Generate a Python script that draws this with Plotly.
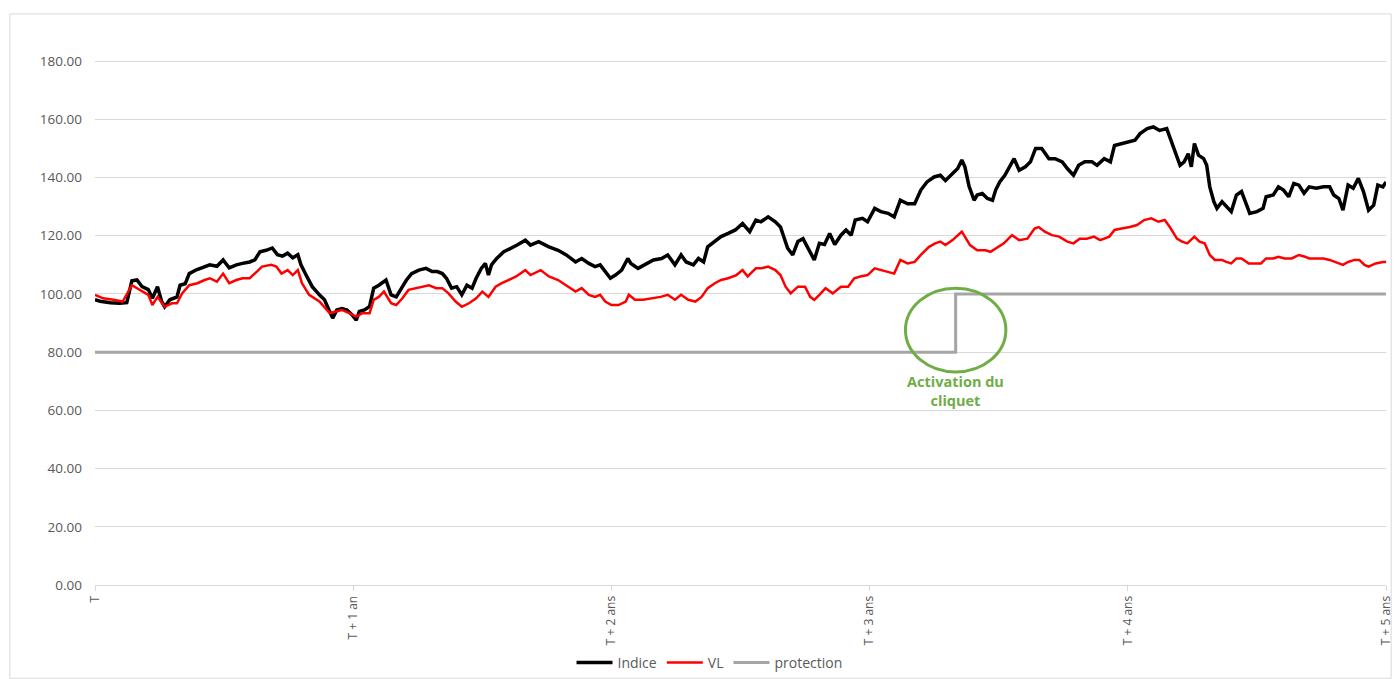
import plotly.graph_objects as go

# ---- data (day index: 252 trading days per year) ----
indice_jours = [0,5,15,24,31,36,41,46,52,56,61,65,68,73,80,83,88,92,99,107,112,119,125,131,138,144,151,156,161,167,173,178,183,188,193,198,201,206,212,219,224,229,232,236,241,246,251,255,258,263,268,272,277,284,289,294,299,304,309,316,323,329,334,339,343,348,353,358,363,368,372,377,381,384,387,392,399,406,412,420,425,433,443,452,460,469,475,482,488,493,498,503,508,514,520,523,530,537,545,553,559,566,572,577,584,589,594,598,605,611,618,625,632,639,645,650,657,664,669,673,676,681,686,691,696,702,707,712,717,722,728,733,738,742,749,754,761,767,774,780,786,793,800,806,812,819,825,830,837,842,846,849,853,858,861,866,871,876,879,883,888,893,897,902,908,913,918,924,931,937,944,949,955,960,966,973,978,985,991,995,1002,1009,1015,1020,1027,1033,1039,1046,1051,1056,1059,1063,1067,1070,1073,1077,1082,1085,1088,1092,1095,1100,1104,1109,1114,1119,1124,1127,1134,1140,1143,1150,1155,1160,1165,1170,1175,1180,1185,1192,1199,1205,1209,1214,1218,1223,1228,1233,1238,1243,1248,1252,1257,1260]
indice_valeurs = [98,97.5,97,96.8,97,104.5,104.8,102.5,101.5,98.5,102.5,97.5,95.6,98,99,103,103.5,107,108.3,109.5,110,109.5,111.7,109,110,110.5,111,111.7,114.5,115,115.8,113.5,113,114,112.4,113.5,110,106.5,102.5,99.7,98,94,91.7,94.5,95,94.5,92.8,91,94,94.5,95.7,102,103,104.8,99.7,99,102,104.8,107,108.2,108.8,107.7,107.7,107,105.4,102,102.5,99.7,103,102,105.4,108.8,110.5,106.5,110,112.2,114.5,115.7,116.8,118.5,116.8,118,116.2,115,113.4,111,112.2,110.5,109.4,110,107.7,105.4,106.5,108.2,112.2,110.5,108.8,110,111.7,112.2,113.4,110,113.4,111,110,112.2,111,116.2,118,119.7,120.8,122,124.2,121.4,125.4,124.8,126.5,124.8,123,119,115.7,113.4,118,119,115.7,111.7,117.4,117,120.8,117,120.2,122,120.2,125.4,126,124.8,129.4,128.3,127.7,126.5,132.2,131,131,135.7,138.5,140.2,140.8,139,141.4,143.1,146,143.7,137.1,132.2,134,134.5,132.8,132.2,135.7,138.5,140.8,144.2,146.5,142.5,143.7,145.4,150,150,146.5,146.5,145.4,143.1,140.8,144.2,145.4,145.4,144.2,146.5,145.4,151,151.7,152.2,152.8,155.1,156.8,157.4,156.2,156.8,152.2,147.7,144.2,145.4,148.2,143.7,151.7,147.7,146.5,144.2,136.8,131.7,129.4,131.7,130,128.3,134,135.2,130.5,127.7,128.3,129.4,133.4,134,136.8,135.7,133.4,138,137.4,134.6,136.8,136.3,136.8,136.8,134,132.8,128.8,137.4,136.3,139.7,135.2,128.8,130.5,137.4,136.8,138.5]

vl_jours = [0,8,18,27,36,41,46,52,56,61,68,75,80,85,92,100,107,112,119,125,131,138,144,151,158,163,172,177,182,188,193,198,202,209,219,229,235,241,248,255,261,268,272,277,282,289,294,300,306,313,319,326,333,339,345,352,358,365,372,378,384,391,397,404,411,420,425,435,443,452,460,469,475,482,488,493,498,504,511,518,521,527,535,543,552,559,566,572,579,586,592,598,605,611,618,626,632,637,645,650,657,664,669,674,679,686,693,698,702,707,713,720,728,735,741,747,754,761,767,774,780,786,793,800,806,814,820,825,830,837,842,846,849,854,861,869,874,881,887,895,902,910,917,921,927,934,941,949,955,961,968,975,981,990,995,1002,1010,1017,1024,1031,1038,1044,1049,1056,1061,1066,1069,1073,1078,1083,1088,1093,1100,1104,1109,1114,1119,1126,1132,1138,1143,1150,1155,1161,1168,1175,1181,1185,1192,1199,1205,1211,1218,1223,1229,1234,1239,1243,1250,1257,1260]
vl_valeurs = [99.7,98.5,98,97.4,103,102,100.8,99.7,96.2,99,95.6,96.8,96.8,100.2,103,103.7,104.8,105.4,104.2,107,103.7,104.8,105.4,105.4,107.7,109.4,110,109.4,107,108.2,106.5,108.2,103.7,99.7,97.4,93.4,94,94.5,93.4,92.2,93.4,93.4,98,99,100.8,96.8,96.2,98.5,101.4,102,102.5,103,102,102,100.2,97.4,95.6,96.8,98.5,100.8,99,102.5,103.7,104.8,106,108.2,106.5,108.2,106,104.8,103,100.8,102,99.7,99,99.7,97.4,96.2,96.2,97.4,99.7,98,98,98.5,99,99.7,98,99.7,98,97.4,99,102,103.7,104.8,105.4,106.5,108.2,106,108.8,108.8,109.4,108.2,106.5,102.5,100.2,102.5,102.5,99,98,99.7,102,100.2,102.5,102.5,105.4,106,106.5,108.8,108.2,107.7,107,111.7,110.5,111,113.4,116.2,117.4,118,116.8,118.5,120.2,121.4,119.7,116.8,115,115,114.5,116.2,117.4,120.2,118.5,119,122.5,123,121.4,120.2,119.7,118,117.4,119,119,119.7,118.5,119.7,122,122.5,123,123.7,125.4,126,124.8,125.4,123,119,118,117.4,118.5,119.7,118,117.4,113.4,111.7,111.7,111,110.5,112.2,112.2,110.5,110.5,110.5,112.2,112.2,112.8,112.2,112.2,113.4,112.8,112.2,112.2,112.2,111.7,111,110,111,111.7,111.7,110,109.4,110.5,111,111]

protection_jours = [0, 840, 1260]
protection_valeurs = [80, 100, 100]

tick_jours = [0, 252, 504, 756, 1008, 1260]
tick_labels = ["T", "T + 1 an", "T + 2 ans", "T + 3 ans", "T + 4 ans", "T + 5 ans"]
y_ticks = [0, 20, 40, 60, 80, 100, 120, 140, 160, 180]

cliquet_jour = 840

FONT = "Open Sans"
GREY_TXT = "#595959"

fig = go.Figure()
fig.add_trace(go.Scatter(x=indice_jours, y=indice_valeurs, mode="lines", name="Indice",
                         line=dict(color="#000000", width=3.5)))
fig.add_trace(go.Scatter(x=vl_jours, y=vl_valeurs, mode="lines", name="VL",
                         line=dict(color="#FF0000", width=2.5)))
fig.add_trace(go.Scatter(x=protection_jours, y=protection_valeurs, mode="lines", name="protection",
                         line=dict(color="#A5A5A5", width=3, shape="hv")))

# green ellipse around the ratchet activation
fig.add_shape(type="circle", xref="x", yref="y",
              x0=cliquet_jour - 49, x1=cliquet_jour + 49, y0=73.2, y1=102,
              line=dict(color="#70AD47", width=3))
fig.add_annotation(x=cliquet_jour, y=66.5, xref="x", yref="y",
                   text="<b>Activation du<br>cliquet</b>", showarrow=False,
                   font=dict(family=FONT, size=14.5, color="#70AD47"), align="center")

# chart-area border
fig.add_shape(type="rect", xref="paper", yref="paper",
              x0=-0.066, x1=1.004, y0=-0.168, y1=1.029,
              line=dict(color="#D9D9D9", width=1), layer="below")

fig.update_layout(
    width=1394, height=679,
    margin=dict(l=95, r=8, t=30, b=94, autoexpand=False),
    paper_bgcolor="white", plot_bgcolor="white",
    font=dict(family=FONT, size=12, color=GREY_TXT),
    showlegend=True,
    legend=dict(orientation="h", x=0.476, xanchor="center",
                yref="container", y=0.0236, yanchor="middle",
                bgcolor="rgba(0,0,0,0)",
                font=dict(family=FONT, size=14, color=GREY_TXT), itemwidth=36,
                tracegroupgap=0),
)
fig.update_xaxes(range=[0, 1260], tickvals=tick_jours, ticktext=tick_labels, tickangle=-90,
                 showgrid=False, zeroline=False, showline=True, linecolor="#D9D9D9", linewidth=1,
                 ticks="outside", ticklen=5, tickcolor="#D9D9D9", automargin=False,
                 ticklabeloverflow="allow",
                 tickfont=dict(family=FONT, size=12, color=GREY_TXT))
fig.update_yaxes(range=[0, 190.7], tickvals=y_ticks, tickformat=".2f",
                 showgrid=True, gridcolor="#D9D9D9", gridwidth=1, zeroline=False,
                 showline=False, ticklabelstandoff=12, automargin=False,
                 tickfont=dict(family=FONT, size=13.5, color=GREY_TXT))

fig.write_html("out.html", config={"displayModeBar": False},
               post_script="document.body.style.margin='0';document.body.style.overflow='hidden';")
